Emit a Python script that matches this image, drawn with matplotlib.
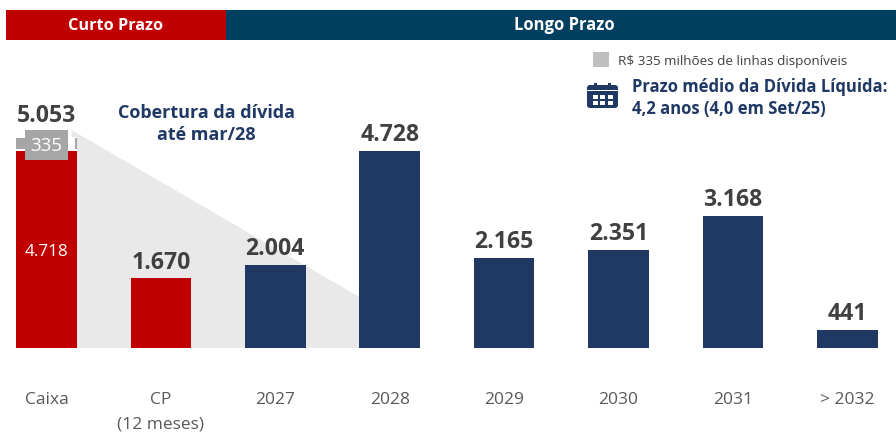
import matplotlib
matplotlib.use("Agg")
import matplotlib.pyplot as plt
from matplotlib.patches import Rectangle, FancyBboxPatch, Polygon

plt.rcParams['font.family'] = ['Open Sans', 'DejaVu Sans']

""" DATA """

categories = ["Caixa", "CP\n(12 meses)", "2027", "2028", "2029", "2030", "2031", "> 2032"]
bar_values = [4718, 1670, 2004, 4728, 2165, 2351, 3168, 441]
top_labels = ["5.053", "1.670", "2.004", "4.728", "2.165", "2.351", "3.168", "441"]
lines_available = 335
cash_total = 5053

""" STYLE """

W, H = 896, 432
RED = "#c00000"
NAVY = "#1f3864"
TEAL = "#003f5f"
DARK = "#404040"
GREY_TEXT = "#595959"
BOX_GREY = "#a6a6a6"
PX_PER_UNIT = 197 / 4728
BASE_Y = 348
STEP = 114.4
X0 = 46.5
BAR_WIDTH = 60.5 / STEP

fig = plt.figure(figsize=(W / 100, H / 100), dpi=100)
ax = fig.add_axes([0, 0, 1, 1])
ax.set_xlim(-X0 / STEP, (W - X0) / STEP)
ax.set_ylim(-(H - BASE_Y) / PX_PER_UNIT, BASE_Y / PX_PER_UNIT)
ax.axis("off")

# overlay in image pixels, for header, legend and icon
pix = fig.add_axes([0, 0, 1, 1], zorder=5)
pix.set_xlim(0, W)
pix.set_ylim(H, 0)
pix.axis("off")
pix.patch.set_alpha(0)

# Header
pix.add_patch(Rectangle((6, 10), 219.5, 30, color=RED, lw=0))
pix.add_patch(Rectangle((225.5, 10), 670.5, 30, color=TEAL, lw=0))
pix.text(116, 25.5, "Curto Prazo", color="white", fontsize=11.7, fontweight="bold", ha="center", va="center")
pix.text(564, 25.5, "Longo Prazo", color="white", fontsize=12, fontweight="bold", ha="center", va="center")

# Coverage wedge behind the bars
ax.add_patch(Polygon([(0.22, 5230), (2.75, 1200), (2.75, 0), (0.22, 0)], closed=True, color="#e9e9e9", lw=0, zorder=1))

# Bars
colors = [RED, RED] + [NAVY] * 6
ax.bar(range(len(bar_values)), bar_values, width=BAR_WIDTH, color=colors, zorder=2)

# Value labels
for i, label in enumerate(top_labels):
    value = cash_total if i == 0 else bar_values[i]
    y = value + (215 if i == 0 else 85)
    ax.text(i, y, label, color=DARK, fontsize=16.6, fontweight="bold", ha="center", va="bottom", zorder=4)
ax.text(0, 2304, "4.718", color="white", fontsize=12.3, ha="center", va="center", zorder=4)

# Available lines box on top of cash bar
ax.bar(0, lines_available, bottom=bar_values[0], width=BAR_WIDTH, color="white", zorder=2)
pix.add_patch(Rectangle((16, 138), 9, 11, color=BOX_GREY, lw=0))
pix.add_patch(Rectangle((75, 138), 2, 11, color=BOX_GREY, lw=0))
pix.add_patch(Rectangle((25, 130), 43, 30, color=BOX_GREY, lw=0))
pix.text(46.5, 146, str(lines_available), color="white", fontsize=13.5, ha="center", va="center")

# Category labels
for i, cat in enumerate(categories):
    lines = cat.split("\n")
    for j, line in enumerate(lines):
        pix.text(X0 + STEP * i, 399.5 + 25 * j, line, color=GREY_TEXT, fontsize=12.5, ha="center", va="center")

# Annotations
pix.text(206, 124, "Cobertura da dívida\naté mar/28", color=NAVY, fontsize=13, fontweight="bold", ha="center", va="center", linespacing=1.25)
pix.add_patch(Rectangle((593, 52), 16, 15, color="#bfbfbf", lw=0))
pix.text(618, 61.5, "R$ 335 milhões de linhas disponíveis", color=DARK, fontsize=9.7, ha="left", va="center")
pix.text(632, 98, "Prazo médio da Dívida Líquida:\n4,2 anos (4,0 em Set/25)", color=NAVY, fontsize=12, fontweight="bold", ha="left", va="center", linespacing=1.3)

# Calendar icon
pix.add_patch(FancyBboxPatch((587, 85), 31, 23, boxstyle="round,pad=0,rounding_size=3", color=NAVY, lw=0))
for x in (594, 608):
    pix.add_patch(Rectangle((x, 83), 3, 4, color=NAVY, lw=0))
pix.add_patch(Rectangle((587, 90), 31, 1.2, color="white", lw=0))
for x in (592.5, 600, 607.5):
    for y in (95, 101):
        pix.add_patch(Rectangle((x, y), 5, 3.8, color="white", lw=0))

fig.savefig("out.png", dpi=100)
